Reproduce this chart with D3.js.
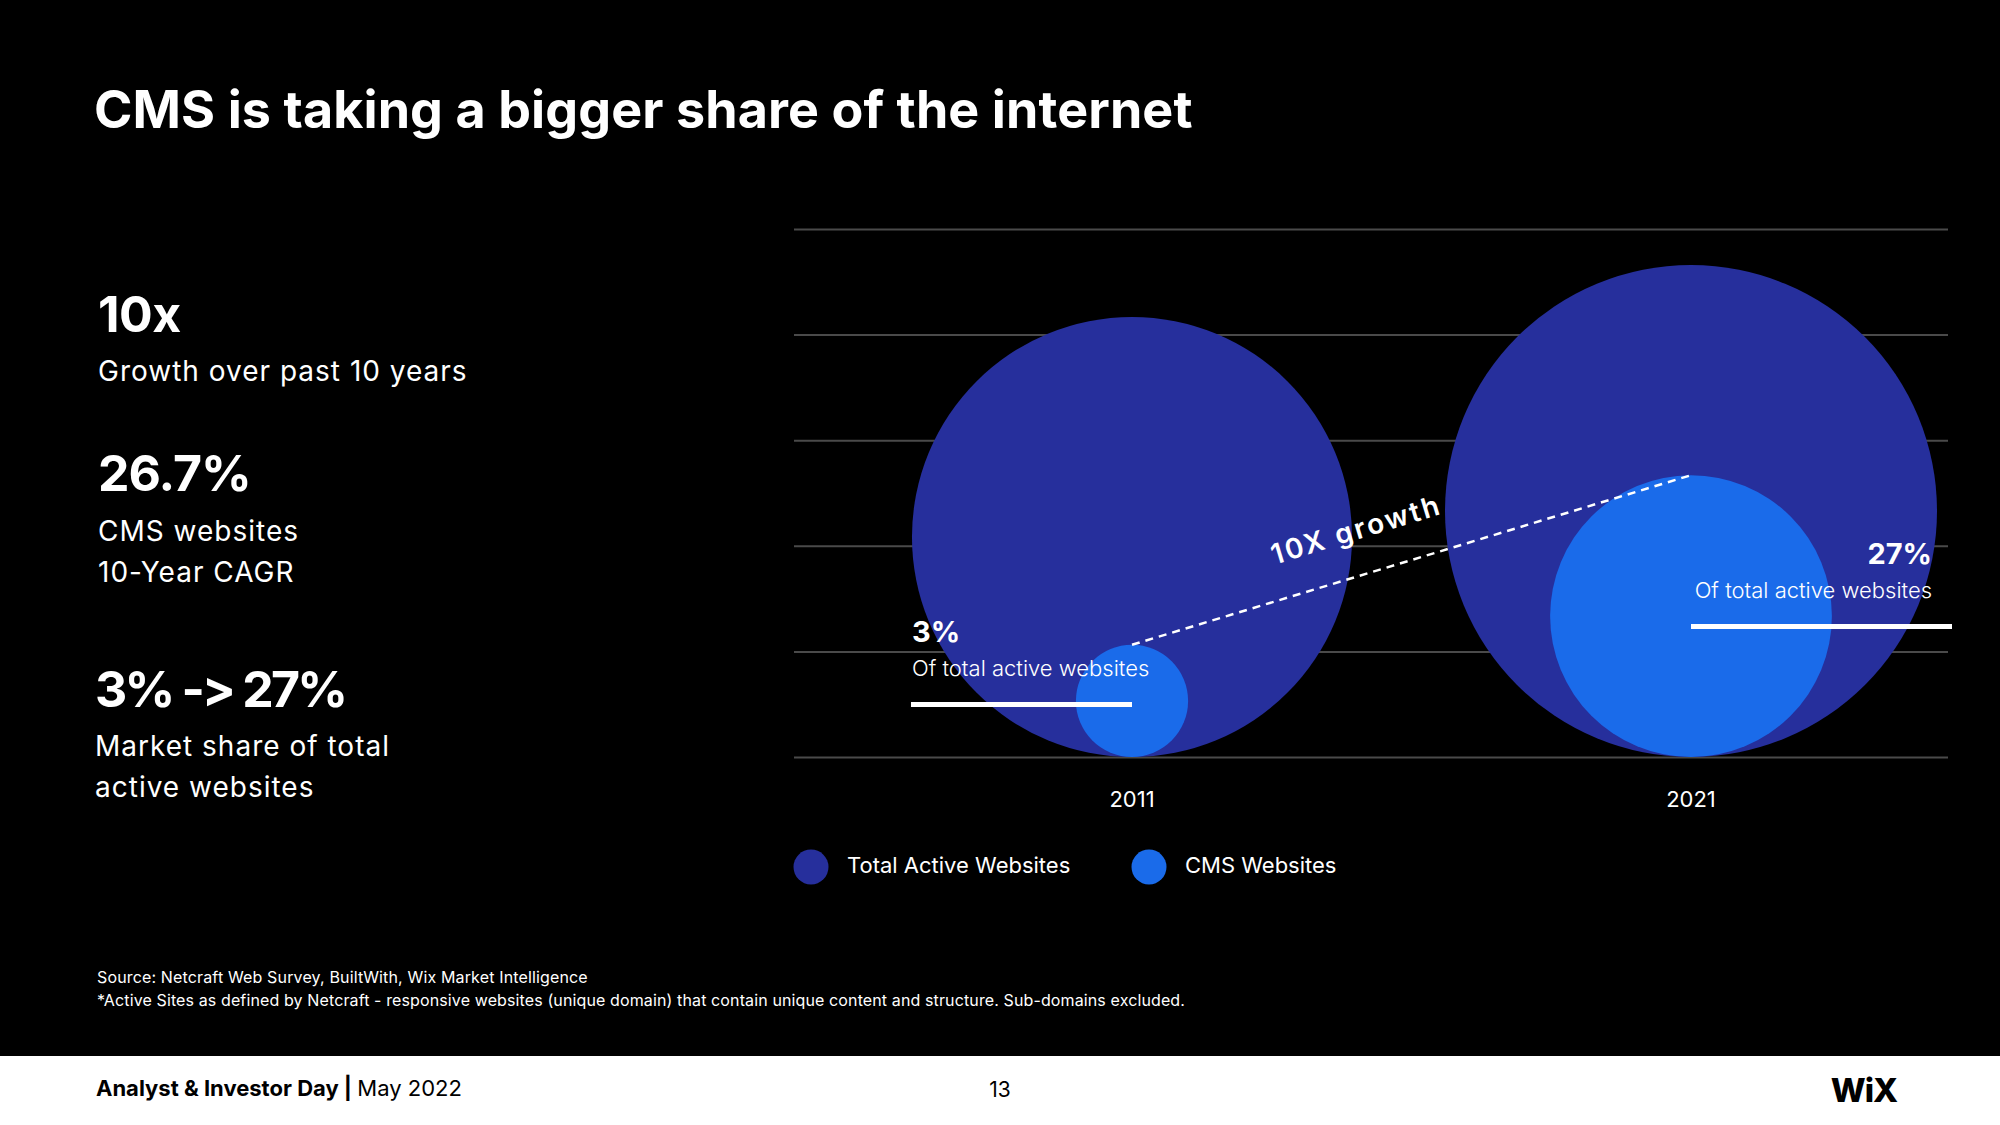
<!DOCTYPE html>
<html><head><meta charset="utf-8">
<script src="https://cdn.jsdelivr.net/npm/d3@7"></script>
<style>
body{margin:0;background:#000}
svg{display:block}
text{font-family:Inter,"Open Sans",sans-serif}
</style>
</head><body>
<svg id="c" width="2000" height="1125"></svg>
<script>
// ---- data ----
const years = ["2011", "2021"];
const totalActive = [100, 125];      // relative size of total active websites
const cmsSites = [6.5, 41];          // relative size of CMS websites
const shareLabels = ["3%", "27%"];
const gridTicks = [0, 1, 2, 3, 4, 5];
const legendItems = ["Total Active Websites", "CMS Websites"];
const statValues = ["10x", "26.7%", "3% -> 27%"];
const statLabels = [["Growth over past 10 years"], ["CMS websites", "10-Year CAGR"], ["Market share of total", "active websites"]];
const growthLabel = "10X growth";

const NAVY = "#262F9C", BRIGHT = "#1A6BEA", GRID = "#4a4a4a";
const svg = d3.select("#c");
svg.append("rect").attr("width", 2000).attr("height", 1125).attr("fill", "#000");

// title
svg.append("text").attr("x", 94).attr("y", 128).attr("fill", "#fff")
  .attr("font-size", 52).attr("font-weight", 700).attr("letter-spacing", 0.1)
  .text("CMS is taking a bigger share of the internet");

// left stats
const statY = [332, 491, 707];
const statX = [98, 98, 95];
const statLS = [-0.5, -1, -2.8];
const subOff = [49, 50, 49];
const subLH = [40, 41, 41];
statValues.forEach((v, i) => {
  svg.append("text").attr("x", statX[i]).attr("y", statY[i]).attr("fill", "#fff")
    .attr("font-size", 50).attr("font-weight", 700).attr("letter-spacing", statLS[i]).text(v);
  statLabels[i].forEach((l, j) => {
    svg.append("text").attr("x", statX[i]).attr("y", statY[i] + subOff[i] + j * subLH[i]).attr("fill", "#fff")
      .attr("font-size", 28).attr("font-weight", 400).attr("letter-spacing", 1).text(l);
  });
});

// ---- chart ----
const plotL = 794, plotR = 1948, plotT = 229, plotB = 757;
const x = d3.scalePoint().domain(years).range([1132, 1691]);
const y = d3.scaleLinear().domain([0, 5]).range([plotB, plotT]);
const r = d3.scaleSqrt().domain([0, 125]).range([0, 246]);

const yAxis = d3.axisLeft(y).tickValues(gridTicks).tickSize(-(plotR - plotL)).tickFormat("");
const ga = svg.append("g").attr("transform", `translate(${plotL},0)`).call(yAxis);
ga.select(".domain").remove();
ga.selectAll(".tick line").attr("stroke", GRID).attr("stroke-width", 2);

const base = y(0);
svg.append("g").selectAll("circle").data(years).join("circle")
  .attr("cx", d => x(d)).attr("cy", (d, i) => base - r(totalActive[i])).attr("r", (d, i) => r(totalActive[i]))
  .attr("fill", NAVY);
svg.append("g").selectAll("circle").data(years).join("circle")
  .attr("cx", d => x(d)).attr("cy", (d, i) => base - r(cmsSites[i])).attr("r", (d, i) => r(cmsSites[i]))
  .attr("fill", BRIGHT);

// x labels
svg.append("g").selectAll("text").data(years).join("text")
  .attr("x", d => x(d)).attr("y", 807).attr("text-anchor", "middle").attr("fill", "#fff")
  .attr("font-size", 22).attr("font-weight", 400).text(d => d);

// dashed growth line
const p0 = [x(years[0]), base - 2 * r(cmsSites[0])];
const p1 = [x(years[1]), base - 2 * r(cmsSites[1])];
svg.append("line").attr("x1", p0[0]).attr("y1", p0[1]).attr("x2", p1[0]).attr("y2", p1[1])
  .attr("stroke", "#fff").attr("stroke-width", 2.5).attr("stroke-dasharray", "8,6");
const ang = Math.atan2(p1[1] - p0[1], p1[0] - p0[0]) * 180 / Math.PI;
svg.append("text").attr("transform", `translate(1359,539) rotate(${ang})`)
  .attr("text-anchor", "middle").attr("fill", "#fff").attr("font-size", 28).attr("font-weight", 600)
  .attr("letter-spacing", 2.5).text(growthLabel);

// share labels
const lbl = [
  {tx: x(years[0]) - r(totalActive[0]), ty: 642, anchor: "start", b0: x(years[0]) - r(totalActive[0]) - 1, b1: x(years[0])},
  {tx: 1932, ty: 564, anchor: "end", b0: x(years[1]), b1: 1952}
];
shareLabels.forEach((s, i) => {
  const L = lbl[i];
  svg.append("text").attr("x", L.tx).attr("y", L.ty).attr("text-anchor", L.anchor).attr("fill", "#fff")
    .attr("font-size", 29).attr("font-weight", 700).text(s);
  svg.append("text").attr("x", L.tx).attr("y", L.ty + 34).attr("text-anchor", L.anchor).attr("fill", "#fff")
    .attr("font-size", 22).attr("font-weight", 300).text("Of total active websites");
  svg.append("rect").attr("x", L.b0).attr("y", L.ty + 60).attr("width", L.b1 - L.b0).attr("height", 5).attr("fill", "#fff");
});

// legend
const legX = [811, 1149];
const legColors = [NAVY, BRIGHT];
legendItems.forEach((t, i) => {
  svg.append("circle").attr("cx", legX[i]).attr("cy", 867).attr("r", 17.5).attr("fill", legColors[i]);
  svg.append("text").attr("x", legX[i] + 36).attr("y", 873).attr("fill", "#fff")
    .attr("font-size", 22).attr("font-weight", 400).text(t);
});

// source
svg.append("text").attr("x", 97).attr("y", 983).attr("fill", "#fff").attr("font-size", 16).attr("letter-spacing", 0.15)
  .text("Source: Netcraft Web Survey, BuiltWith, Wix Market Intelligence");
svg.append("text").attr("x", 97).attr("y", 1006).attr("fill", "#fff").attr("font-size", 16).attr("letter-spacing", 0.12)
  .text("*Active Sites as defined by Netcraft - responsive websites (unique domain) that contain unique content and structure. Sub-domains excluded.");

// footer
svg.append("rect").attr("x", 0).attr("y", 1056).attr("width", 2000).attr("height", 69).attr("fill", "#fff");
const ft = svg.append("text").attr("x", 96).attr("y", 1096).attr("fill", "#000").attr("font-size", 22);
ft.append("tspan").attr("font-weight", 700).text("Analyst & Investor Day");
ft.append("tspan").attr("font-weight", 700).text("  |  ");
ft.append("tspan").attr("font-weight", 400).text("May 2022");
svg.append("text").attr("x", 1000).attr("y", 1097).attr("text-anchor", "middle").attr("fill", "#000")
  .attr("font-size", 21).text("13");
svg.append("text").attr("x", 1864).attr("y", 1102).attr("text-anchor", "middle").attr("fill", "#000")
  .attr("font-size", 33).attr("font-weight", 800).attr("letter-spacing", -1).text("WiX");
</script>
</body></html>
